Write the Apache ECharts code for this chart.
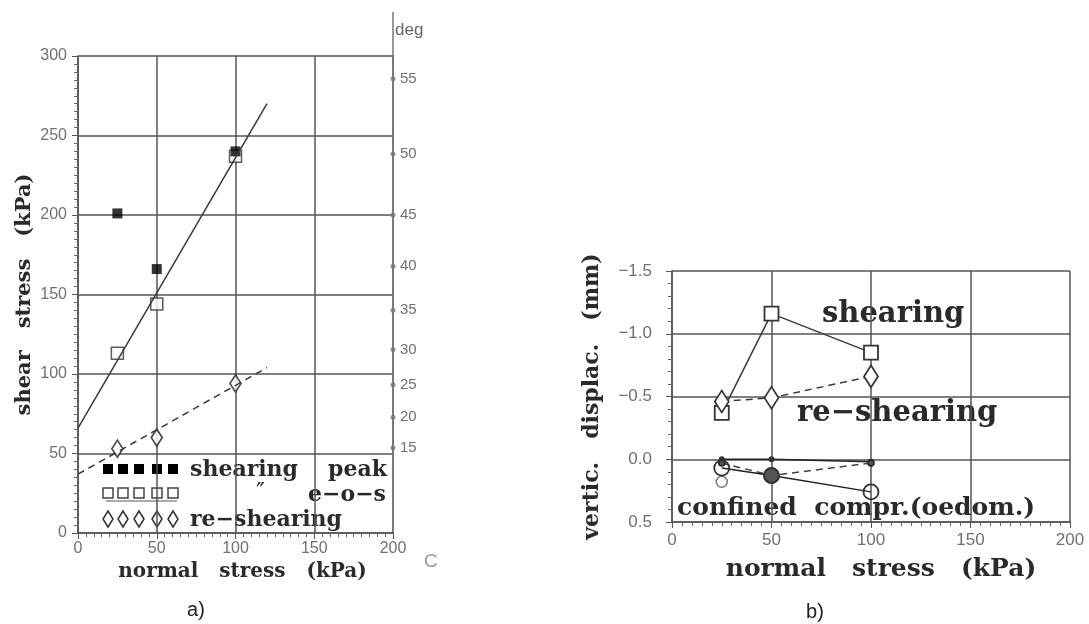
<!DOCTYPE html>
<html>
<head>
<meta charset="utf-8">
<script src="https://cdn.jsdelivr.net/npm/echarts@6/dist/echarts.min.js"></script>
<style>
html,body{margin:0;padding:0;background:#fff;}
#chart{width:1089px;height:624px;}
</style>
</head>
<body>
<div id="chart"></div>
<script>
// ---------- Panel a) : shear stress vs normal stress ----------
const stressA = [25, 50, 100];
const peakA = [201, 166, 240];          // shearing peak (filled squares)
const eosA = [113, 144, 237];           // end of shearing (open squares)
const reshearA = [53, 60, 94];          // re-shearing (diamonds)
const fitLineX = [0, 120];
const fitPeakY = [66, 270];             // solid envelope
const fitReshearY = [37, 104];          // dashed envelope
const degTicks = [15, 20, 25, 30, 35, 40, 45, 50, 55];
const axisTicksA = { xMax: 200, xStep: 50, yMax: 300, yStep: 50 };

// ---------- Panel b) : vertical displacement vs normal stress ----------
const stressB = [25, 50, 100];
const shearingB = [-0.37, -1.16, -0.85];
const reshearB = [-0.46, -0.49, -0.66];
const oedDotsB = [0.0, 0.0, 0.02];
const oedCircB = [0.07, 0.13, 0.26];
const oedDashB = [0.03, 0.13, 0.03];
const oedExtraX = [25];
const oedExtraY = [0.18];

const zip = (xs, ys) => xs.map((x, i) => [x, ys[i]]);
const SERIF = "'DejaVu Serif', serif";
const SANS = "'Liberation Sans', Arial, sans-serif";
const GRID_COL = '#555';
const LINE_COL = '#3a3a3a';
const TICK_COL = '#707070';

const chart = echarts.init(document.getElementById('chart'), null, { renderer: 'canvas' });

const axisCommon = {
  type: 'value',
  axisLine: { show: true, onZero: false, lineStyle: { color: GRID_COL, width: 1.5 } },
  axisTick: { show: true, length: 6, lineStyle: { color: GRID_COL, width: 1 } },
  minorTick: { show: true, length: 4, lineStyle: { color: '#666', width: 1 } },
  splitLine: { show: true, lineStyle: { color: GRID_COL, width: 1.5 } },
  nameLocation: 'middle',
  nameTextStyle: { fontFamily: SERIF, fontWeight: 'bold', color: '#2a2a2a' }
};

const degPos = degTicks.map(d => 200 * Math.tan(d * Math.PI / 180));

const option = {
  backgroundColor: '#fff',
  animation: false,
  grid: [
    { left: 78, top: 56, width: 315, height: 477 },
    { left: 672, top: 271, width: 398, height: 251 }
  ],
  xAxis: [
    Object.assign({}, axisCommon, {
      gridIndex: 0, min: 0, max: axisTicksA.xMax, interval: axisTicksA.xStep,
      minorTick: Object.assign({}, axisCommon.minorTick, { splitNumber: 10 }),
      axisLabel: { fontFamily: SANS, fontSize: 16, color: TICK_COL, margin: 8 },
      name: 'normal   stress   (kPa)', nameGap: 26,
      nameTextStyle: Object.assign({}, axisCommon.nameTextStyle, { fontSize: 20, padding: [0, 0, 0, 14] })
    }),
    Object.assign({}, axisCommon, {
      gridIndex: 1, min: 0, max: 200, interval: 50,
      minorTick: Object.assign({}, axisCommon.minorTick, { splitNumber: 10 }),
      axisLabel: { fontFamily: SANS, fontSize: 17, color: TICK_COL, margin: 10 },
      name: 'normal   stress   (kPa)', nameGap: 35,
      nameTextStyle: Object.assign({}, axisCommon.nameTextStyle, { fontSize: 25, padding: [0, 0, 0, 20] })
    })
  ],
  yAxis: [
    Object.assign({}, axisCommon, {
      gridIndex: 0, min: 0, max: axisTicksA.yMax, interval: axisTicksA.yStep,
      minorTick: Object.assign({}, axisCommon.minorTick, { splitNumber: 10 }),
      axisLabel: { fontFamily: SANS, fontSize: 16, color: TICK_COL, margin: 11 },
      name: 'shear   stress   (kPa)', nameGap: 43,
      nameTextStyle: Object.assign({}, axisCommon.nameTextStyle, { fontSize: 21 })
    }),
    {
      type: 'value', gridIndex: 0, position: 'right', min: 0, max: 300,
      axisLine: { show: true, onZero: false, lineStyle: { color: '#777', width: 1.5 } },
      axisTick: { show: false },
      splitLine: { show: false },
      axisLabel: {
        show: true, customValues: degPos, margin: 7,
        fontFamily: SANS, fontSize: 15, color: TICK_COL,
        formatter: v => String(Math.round(Math.atan(v / 200) * 180 / Math.PI))
      }
    },
    Object.assign({}, axisCommon, {
      gridIndex: 1, min: -1.5, max: 0.5, interval: 0.5, inverse: true,
      minorTick: Object.assign({}, axisCommon.minorTick, { splitNumber: 5 }),
      axisLabel: {
        fontFamily: SANS, fontSize: 17, color: TICK_COL, margin: 20,
        formatter: v => v.toFixed(1).replace('-', '\u2212')
      },
      name: 'vertic.   displac.   (mm)', nameGap: 69,
      nameTextStyle: Object.assign({}, axisCommon.nameTextStyle, { fontSize: 22 })
    })
  ],
  series: [
    // ----- panel a -----
    { type: 'line', xAxisIndex: 0, yAxisIndex: 0, data: zip(fitLineX, fitPeakY), symbol: 'none',
      lineStyle: { color: LINE_COL, width: 1.5 }, silent: true },
    { type: 'line', xAxisIndex: 0, yAxisIndex: 0, data: zip(fitLineX, fitReshearY), symbol: 'none',
      lineStyle: { color: LINE_COL, width: 1.5, type: [7, 5] }, silent: true },
    { type: 'scatter', name: 'e-o-s', xAxisIndex: 0, yAxisIndex: 0, data: zip(stressA, eosA),
      symbol: 'rect', symbolSize: 12,
      itemStyle: { color: '#fff', borderColor: '#333', borderWidth: 1.5 } },
    { type: 'scatter', name: 'shearing peak', xAxisIndex: 0, yAxisIndex: 0, data: zip(stressA, peakA),
      symbol: 'rect', symbolSize: 10, itemStyle: { color: '#000' } },
    { type: 'scatter', name: 're-shearing', xAxisIndex: 0, yAxisIndex: 0, data: zip(stressA, reshearA),
      symbol: 'diamond', symbolSize: [11, 17],
      itemStyle: { color: '#fff', borderColor: '#222', borderWidth: 1.8 } },
    { type: 'scatter', xAxisIndex: 0, yAxisIndex: 1, clip: false,
      data: degPos.map(p => [axisTicksA.xMax, p]),
      symbol: 'circle', symbolSize: 5, itemStyle: { color: '#777' }, silent: true },
    // ----- panel b -----
    { type: 'line', name: 'shearing', xAxisIndex: 1, yAxisIndex: 2, data: zip(stressB, shearingB),
      symbol: 'rect', symbolSize: 14, lineStyle: { color: LINE_COL, width: 1.5 },
      itemStyle: { color: '#fff', borderColor: '#333', borderWidth: 1.8 } },
    { type: 'line', name: 're-shearing', xAxisIndex: 1, yAxisIndex: 2, data: zip(stressB, reshearB),
      symbol: 'diamond', symbolSize: [14, 22], lineStyle: { color: LINE_COL, width: 1.5, type: [7, 5] },
      itemStyle: { color: '#fff', borderColor: '#333', borderWidth: 1.8 } },
    { type: 'line', xAxisIndex: 1, yAxisIndex: 2, data: zip(stressB, oedDotsB),
      symbol: 'circle', symbolSize: 6, lineStyle: { color: '#222', width: 1.5 },
      itemStyle: { color: '#333' } },
    { type: 'line', xAxisIndex: 1, yAxisIndex: 2, data: zip(stressB, oedDashB),
      symbol: 'circle', symbolSize: (v, p) => (p.dataIndex === 1 ? 15 : 6),
      lineStyle: { color: '#444', width: 1.5, type: [7, 5] },
      itemStyle: { color: '#555', borderColor: '#222', borderWidth: 1.5 } },
    { type: 'line', xAxisIndex: 1, yAxisIndex: 2, data: zip(stressB, oedCircB),
      symbol: 'circle', symbolSize: 15, lineStyle: { color: '#222', width: 1.5 },
      itemStyle: { color: 'rgba(255,255,255,0)', borderColor: '#333', borderWidth: 1.8 } },
    { type: 'scatter', xAxisIndex: 1, yAxisIndex: 2, data: zip(oedExtraX, oedExtraY),
      symbol: 'circle', symbolSize: 11,
      itemStyle: { color: '#fff', borderColor: '#555', borderWidth: 1.5 } }
  ],
  graphic: []
};

// legend glyphs (panel a) and annotation texts
const g = [];
const legX = [108, 123, 139, 157, 173];
legX.forEach(x => {
  g.push({ type: 'rect', shape: { x: x - 5, y: 469 - 5, width: 10, height: 10 }, style: { fill: '#000' } });
  g.push({ type: 'rect', shape: { x: x - 5, y: 493 - 5, width: 10, height: 10 }, style: { fill: '#fff', stroke: '#444', lineWidth: 1.5 } });
  g.push({ type: 'polygon', shape: { points: [[x, 511], [x + 5, 519], [x, 527], [x - 5, 519]] }, style: { fill: '#fff', stroke: '#333', lineWidth: 1.5 } });
});
g.push({ type: 'line', shape: { x1: 106, y1: 501, x2: 177, y2: 501 }, style: { stroke: '#555', lineWidth: 1.2 } });

const txt = (x, y, s, size, opts) => Object.assign({
  type: 'text', x: x, y: y,
  style: Object.assign({ text: s, fontFamily: SERIF, fontWeight: 'bold', fontSize: size, fill: '#2a2a2a', verticalAlign: 'middle', align: 'left' }, opts || {})
});
g.push(txt(190, 470, 'shearing', 22));
g.push(txt(387, 470, 'peak', 22, { align: 'right' }));
g.push(txt(256, 494, '\u2033', 24, { fontWeight: 'normal' }));
g.push(txt(386, 495, 'e\u2212o\u2212s', 22, { align: 'right' }));
g.push(txt(190, 520, 're\u2212shearing', 22));

g.push(txt(822, 314, 'shearing', 29));
g.push(txt(797, 413, 're\u2212shearing', 29));
g.push(txt(677, 508, 'confined  compr.(oedom.)', 25));

// right axis extension and its unit
g.push({ type: 'line', shape: { x1: 393, y1: 12, x2: 393, y2: 56 }, style: { stroke: '#777', lineWidth: 1.5 } });
g.push(txt(395, 30, 'deg', 17, { fontFamily: SANS, fontWeight: 'normal', fill: '#666' }));
g.push(txt(424, 562, 'C', 19, { fontFamily: SANS, fontWeight: 'normal', fill: '#999' }));

// panel captions
g.push(txt(196, 610, 'a)', 20, { fontFamily: SANS, fontWeight: 'normal', fill: '#222', align: 'center' }));
g.push(txt(815, 612, 'b)', 20, { fontFamily: SANS, fontWeight: 'normal', fill: '#222', align: 'center' }));

option.graphic = g;
chart.setOption(option);
</script>
</body>
</html>
